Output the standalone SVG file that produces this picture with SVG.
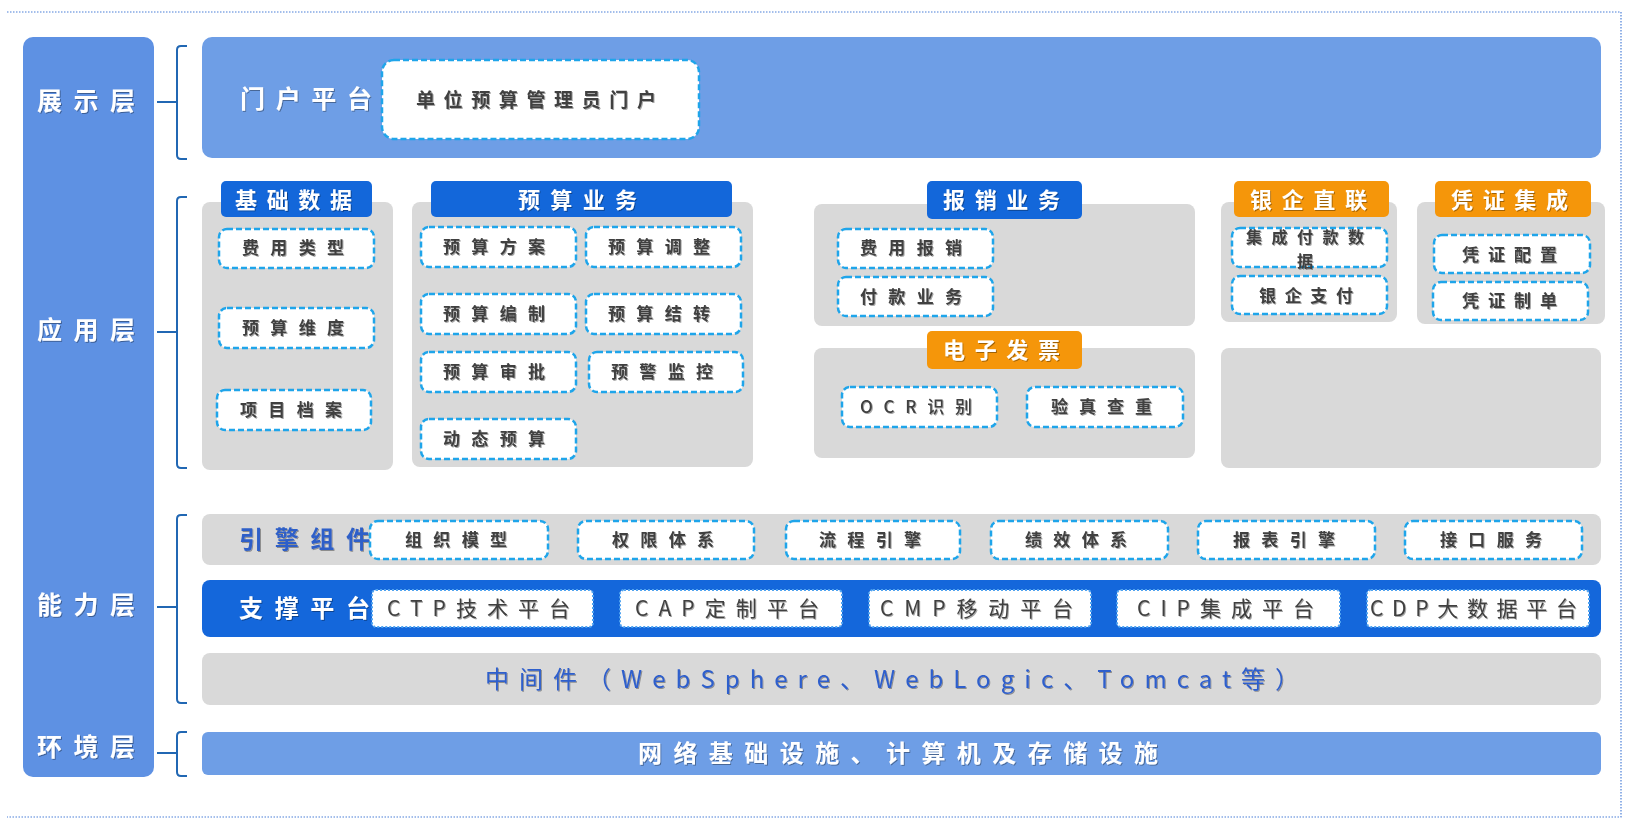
<svg xmlns="http://www.w3.org/2000/svg" width="1632" height="827" viewBox="0 0 1632 827">
<defs>
<filter id="ts" x="-10%" y="-30%" width="120%" height="160%">
<feDropShadow dx="1" dy="1" stdDeviation="0.7" flood-color="#000" flood-opacity="0.35"/>
</filter>
</defs>
<style>
text{font-family:"Noto Sans CJK SC","Liberation Sans",sans-serif;}
.lay{font-size:25px;font-weight:700;fill:#fff;}
.hd{font-size:22px;font-weight:700;fill:#fff;}
.it{font-size:17px;font-weight:700;fill:#404040;}
.pf{font-size:21px;font-weight:400;fill:#404040;}
.gray{fill:#D9D9D9;}
.blue{fill:#1367DA;}
.orange{fill:#F5960A;}
.dash{fill:#fff;stroke:#1FA5EA;stroke-width:2.5;stroke-dasharray:6 3;}
.dot{fill:#fff;stroke:#4FA3F0;stroke-width:2;stroke-dasharray:2 2;}
.br{fill:none;stroke:#2167B3;stroke-width:2;}
.frame{fill:none;stroke:#4A7FD8;stroke-width:1.2;stroke-dasharray:1.5 1.5;}
</style>

<g id="frame">
<path class="frame" d="M7,12 H1621 V817 H7"/>
</g>

<g id="layers">
<rect x="23" y="37" width="131" height="740" rx="10" fill="#5E91E3"/>
<text class="lay" x="37" y="110" textLength="98" lengthAdjust="spacing" filter="url(#ts)">展示层</text>
<text class="lay" x="37" y="339" textLength="98" lengthAdjust="spacing" filter="url(#ts)">应用层</text>
<text class="lay" x="37" y="614" textLength="98" lengthAdjust="spacing" filter="url(#ts)">能力层</text>
<text class="lay" x="37" y="756" textLength="98" lengthAdjust="spacing" filter="url(#ts)">环境层</text>
</g>

<g id="connectors">
<path class="br" d="M187,46 H181 Q177,46 177,50 V155 Q177,159 181,159 H187 M157,102 H177"/>
<path class="br" d="M187,197 H181 Q177,197 177,201 V464 Q177,468 181,468 H187 M157,332 H177"/>
<path class="br" d="M187,515 H181 Q177,515 177,519 V699 Q177,703 181,703 H187 M157,607 H177"/>
<path class="br" d="M187,732 H181 Q177,732 177,736 V772 Q177,776 181,776 H187 M157,753 H177"/>
</g>

<g id="portal">
<rect x="202" y="37" width="1399" height="121" rx="10" fill="#6E9EE6"/>
<text class="lay" x="240" y="108" textLength="132" lengthAdjust="spacing" filter="url(#ts)">门户平台</text>
<rect class="dash" x="382" y="60" width="317" height="79" rx="12"/>
<text class="it" style="font-size:19px" x="416" y="107" textLength="240" lengthAdjust="spacing" filter="url(#ts)">单位预算管理员门户</text>
</g>

<g id="basic-data">
<rect class="gray" x="202" y="202" width="191" height="268" rx="8"/>
<rect class="blue" x="221" y="181" width="151" height="36" rx="5"/>
<text class="hd" x="235" y="208" textLength="117" lengthAdjust="spacing" filter="url(#ts)">基础数据</text>
<rect class="dash" x="219" y="229" width="155" height="39" rx="8"/>
<text class="it" x="242" y="254" textLength="102" lengthAdjust="spacing" filter="url(#ts)">费用类型</text>
<rect class="dash" x="219" y="308" width="155" height="40" rx="8"/>
<text class="it" x="242" y="334" textLength="102" lengthAdjust="spacing" filter="url(#ts)">预算维度</text>
<rect class="dash" x="217" y="390" width="154" height="40" rx="8"/>
<text class="it" x="240" y="416" textLength="102" lengthAdjust="spacing" filter="url(#ts)">项目档案</text>
</g>

<g id="budget">
<rect class="gray" x="412" y="202" width="341" height="265" rx="8"/>
<rect class="blue" x="431" y="181" width="301" height="36" rx="5"/>
<text class="hd" x="518" y="208" textLength="119" lengthAdjust="spacing" filter="url(#ts)">预算业务</text>
<rect class="dash" x="421" y="227" width="155" height="40" rx="8"/>
<text class="it" x="443" y="253" textLength="102" lengthAdjust="spacing" filter="url(#ts)">预算方案</text>
<rect class="dash" x="586" y="227" width="155" height="40" rx="8"/>
<text class="it" x="608" y="253" textLength="102" lengthAdjust="spacing" filter="url(#ts)">预算调整</text>
<rect class="dash" x="421" y="294" width="155" height="40" rx="8"/>
<text class="it" x="443" y="320" textLength="102" lengthAdjust="spacing" filter="url(#ts)">预算编制</text>
<rect class="dash" x="586" y="294" width="155" height="40" rx="8"/>
<text class="it" x="608" y="320" textLength="102" lengthAdjust="spacing" filter="url(#ts)">预算结转</text>
<rect class="dash" x="421" y="352" width="155" height="40" rx="8"/>
<text class="it" x="443" y="378" textLength="102" lengthAdjust="spacing" filter="url(#ts)">预算审批</text>
<rect class="dash" x="589" y="352" width="154" height="40" rx="8"/>
<text class="it" x="611" y="378" textLength="102" lengthAdjust="spacing" filter="url(#ts)">预警监控</text>
<rect class="dash" x="421" y="419" width="155" height="40" rx="8"/>
<text class="it" x="443" y="445" textLength="102" lengthAdjust="spacing" filter="url(#ts)">动态预算</text>
</g>

<g id="reimburse">
<rect class="gray" x="814" y="204" width="381" height="122" rx="8"/>
<rect class="blue" x="927" y="181" width="155" height="38" rx="5"/>
<text class="hd" x="943" y="208" textLength="117" lengthAdjust="spacing" filter="url(#ts)">报销业务</text>
<rect class="dash" x="838" y="229" width="155" height="39" rx="8"/>
<text class="it" x="860" y="254" textLength="102" lengthAdjust="spacing" filter="url(#ts)">费用报销</text>
<rect class="dash" x="838" y="277" width="155" height="39" rx="8"/>
<text class="it" x="860" y="303" textLength="102" lengthAdjust="spacing" filter="url(#ts)">付款业务</text>
</g>

<g id="einvoice">
<rect class="gray" x="814" y="348" width="381" height="110" rx="8"/>
<rect class="orange" x="927" y="331" width="155" height="38" rx="5"/>
<text class="hd" x="943" y="358" textLength="117" lengthAdjust="spacing" filter="url(#ts)">电子发票</text>
<rect class="dash" x="842" y="387" width="155" height="40" rx="8"/>
<text class="it" style="font-weight:500" x="860" y="413" textLength="112" lengthAdjust="spacing" filter="url(#ts)">OCR识别</text>
<rect class="dash" x="1027" y="387" width="156" height="40" rx="8"/>
<text class="it" x="1051" y="413" textLength="101" lengthAdjust="spacing" filter="url(#ts)">验真查重</text>
</g>

<g id="bank">
<rect class="gray" x="1221" y="202" width="176" height="120" rx="8"/>
<rect class="orange" x="1234" y="181" width="155" height="36" rx="5"/>
<text class="hd" x="1250" y="208" textLength="117" lengthAdjust="spacing" filter="url(#ts)">银企直联</text>
<rect class="dash" x="1232" y="228" width="155" height="39" rx="8"/>
<text class="it" style="font-size:16px" x="1246" y="243" textLength="118" lengthAdjust="spacing" filter="url(#ts)">集成付款数</text>
<text class="it" style="font-size:16px" x="1305" y="267" text-anchor="middle" filter="url(#ts)">据</text>
<rect class="dash" x="1232" y="276" width="155" height="38" rx="8"/>
<text class="it" x="1259" y="302" textLength="94" lengthAdjust="spacing" filter="url(#ts)">银企支付</text>
</g>

<g id="voucher">
<rect class="gray" x="1417" y="202" width="188" height="122" rx="8"/>
<rect class="orange" x="1435" y="181" width="156" height="36" rx="5"/>
<text class="hd" x="1451" y="208" textLength="117" lengthAdjust="spacing" filter="url(#ts)">凭证集成</text>
<rect class="dash" x="1434" y="235" width="156" height="38" rx="8"/>
<text class="it" x="1462" y="261" textLength="95" lengthAdjust="spacing" filter="url(#ts)">凭证配置</text>
<rect class="dash" x="1433" y="282" width="155" height="38" rx="8"/>
<text class="it" x="1462" y="307" textLength="95" lengthAdjust="spacing" filter="url(#ts)">凭证制单</text>
</g>

<g id="empty-panel">
<rect class="gray" x="1221" y="348" width="380" height="120" rx="8"/>
</g>

<g id="engine">
<rect class="gray" x="202" y="514" width="1399" height="51" rx="8"/>
<text x="239" y="548" textLength="131" lengthAdjust="spacing" style="font-size:24px;font-weight:700;fill:#2E5FC8" filter="url(#ts)">引擎组件</text>
<rect class="dash" x="370" y="521" width="178" height="38" rx="8"/>
<text class="it" x="405" y="546" textLength="102" lengthAdjust="spacing" filter="url(#ts)">组织模型</text>
<rect class="dash" x="578" y="521" width="176" height="38" rx="8"/>
<text class="it" x="612" y="546" textLength="102" lengthAdjust="spacing" filter="url(#ts)">权限体系</text>
<rect class="dash" x="786" y="521" width="174" height="38" rx="8"/>
<text class="it" x="819" y="546" textLength="102" lengthAdjust="spacing" filter="url(#ts)">流程引擎</text>
<rect class="dash" x="991" y="521" width="177" height="38" rx="8"/>
<text class="it" x="1025" y="546" textLength="102" lengthAdjust="spacing" filter="url(#ts)">绩效体系</text>
<rect class="dash" x="1198" y="521" width="177" height="38" rx="8"/>
<text class="it" x="1233" y="546" textLength="102" lengthAdjust="spacing" filter="url(#ts)">报表引擎</text>
<rect class="dash" x="1405" y="521" width="177" height="38" rx="8"/>
<text class="it" x="1440" y="546" textLength="102" lengthAdjust="spacing" filter="url(#ts)">接口服务</text>
</g>

<g id="support">
<rect x="202" y="580" width="1399" height="57" rx="8" fill="#1467DB"/>
<text x="239" y="617" textLength="131" lengthAdjust="spacing" style="font-size:24px;font-weight:700;fill:#fff" filter="url(#ts)">支撑平台</text>
<rect class="dot" x="372" y="590" width="221" height="37" rx="4"/>
<text class="pf" x="387" y="616" textLength="183" lengthAdjust="spacing" filter="url(#ts)">CTP技术平台</text>
<rect class="dot" x="620" y="590" width="222" height="37" rx="4"/>
<text class="pf" x="635" y="616" textLength="184" lengthAdjust="spacing" filter="url(#ts)">CAP定制平台</text>
<rect class="dot" x="869" y="590" width="222" height="37" rx="4"/>
<text class="pf" x="880" y="616" textLength="193" lengthAdjust="spacing" filter="url(#ts)">CMP移动平台</text>
<rect class="dot" x="1117" y="590" width="223" height="37" rx="4"/>
<text class="pf" x="1137" y="616" textLength="177" lengthAdjust="spacing" filter="url(#ts)">CIP集成平台</text>
<rect class="dot" x="1367" y="590" width="222" height="37" rx="4"/>
<text class="pf" x="1370" y="616" textLength="207" lengthAdjust="spacing" filter="url(#ts)">CDP大数据平台</text>
</g>

<g id="middleware">
<rect class="gray" x="202" y="653" width="1399" height="52" rx="8"/>
<text x="485" y="688" textLength="814" lengthAdjust="spacing" style="font-size:24px;font-weight:400;fill:#2F5FCC" filter="url(#ts)">中间件（WebSphere、WebLogic、Tomcat等）</text>
</g>

<g id="environment">
<rect x="202" y="732" width="1399" height="43" rx="6" fill="#6E9EE6"/>
<text x="638" y="762" textLength="520" lengthAdjust="spacing" style="font-size:24px;font-weight:700;fill:#fff" filter="url(#ts)">网络基础设施、计算机及存储设施</text>
</g>
</svg>
